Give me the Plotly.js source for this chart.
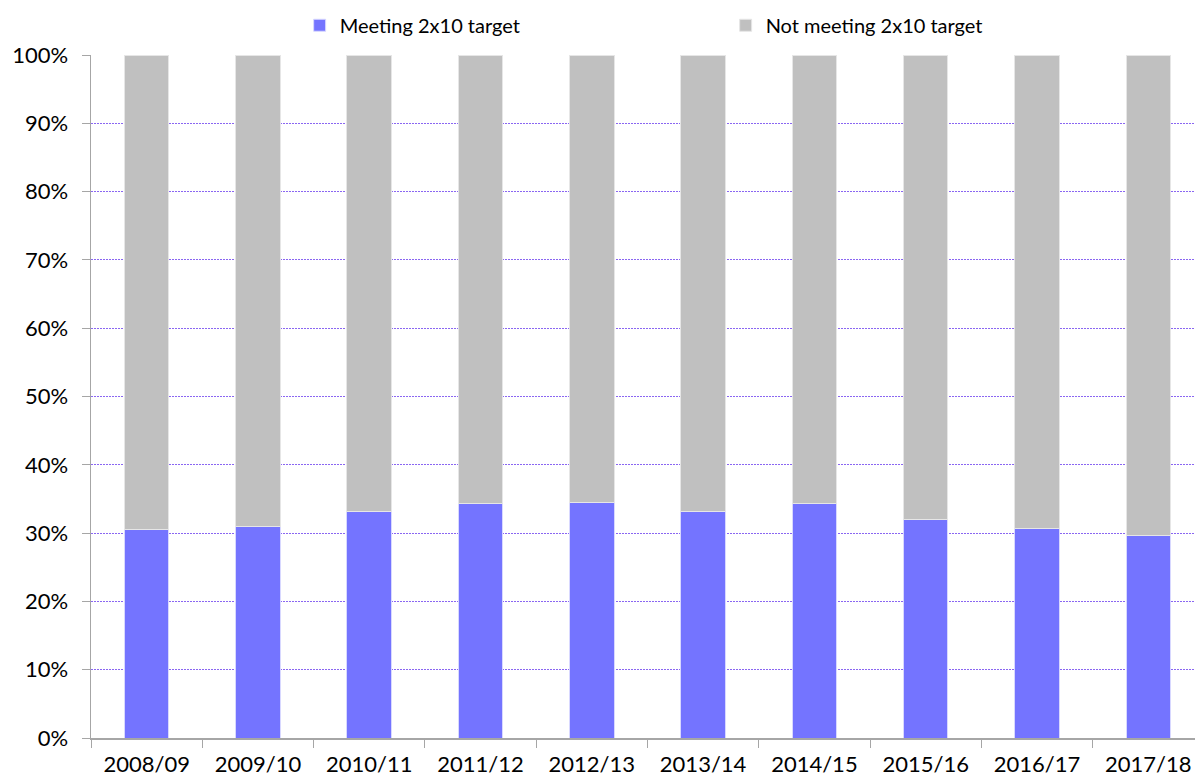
<!DOCTYPE html>
<html>
<head>
<meta charset="utf-8">
<script src="https://cdn.plot.ly/plotly-3.0.1.min.js"></script>
<style>html,body{margin:0;padding:0;background:#fff;}#chart{width:1195px;height:780px;}</style>
</head>
<body>
<div id="chart"></div>
<script>
const years = ["2008/09","2009/10","2010/11","2011/12","2012/13","2013/14","2014/15","2015/16","2016/17","2017/18"];
const meeting = [30.5, 30.9, 33.1, 34.4, 34.5, 33.2, 34.3, 32.0, 30.7, 29.6];
const notMeeting = meeting.map(v => 100 - v);
const yTicks = [0,10,20,30,40,50,60,70,80,90,100];
const yTickLabels = yTicks.map(v => v + "%");

const FONT = "Lato, 'Open Sans', sans-serif";

const traces = [
  {type:"bar", name:"Meeting 2x10 target", x:years, y:meeting,
   marker:{color:"#7474ff", line:{color:"#d8d8ff", width:1}}},
  {type:"bar", name:"Not meeting 2x10 target", x:years, y:notMeeting,
   marker:{color:"#c0c0c0", line:{color:"#e6e6e6", width:1}}}
];

const layout = {
  width:1195, height:780,
  barmode:"stack", bargap:0.6,
  margin:{l:91, r:0, t:55, b:42, autoexpand:false},
  paper_bgcolor:"#fff", plot_bgcolor:"#fff",
  font:{family:FONT, color:"#000", size:21},
  showlegend:true,
  legend:{orientation:"h", x:0.189, xanchor:"left", y:1.015, yanchor:"bottom",
    font:{size:20, family:FONT}, entrywidth:381, itemwidth:30, traceorder:"normal"},
  xaxis:{type:"category", range:[-0.5, 9.42], showgrid:false, automargin:false,
    showline:true, linecolor:"#a6a6a6", linewidth:1.5,
    ticks:"outside", tickson:"boundaries", ticklen:8, tickcolor:"#a6a6a6",
    ticklabelstandoff:6,
    tickfont:{size:22, family:FONT}, fixedrange:true},
  yaxis:{range:[0,100], tickvals:yTicks, ticktext:yTickLabels, automargin:false,
    showgrid:true, gridcolor:"#8a66f2", griddash:"2px,1px", gridwidth:1,
    showline:true, linecolor:"#a6a6a6", linewidth:1.5,
    ticks:"outside", ticklen:8, tickcolor:"#a6a6a6",
    ticklabelstandoff:9,
    tickfont:{size:22, family:FONT}, zeroline:false, fixedrange:true}
};

Plotly.newPlot("chart", traces, layout, {displayModeBar:false, staticPlot:true});
</script>
</body>
</html>
